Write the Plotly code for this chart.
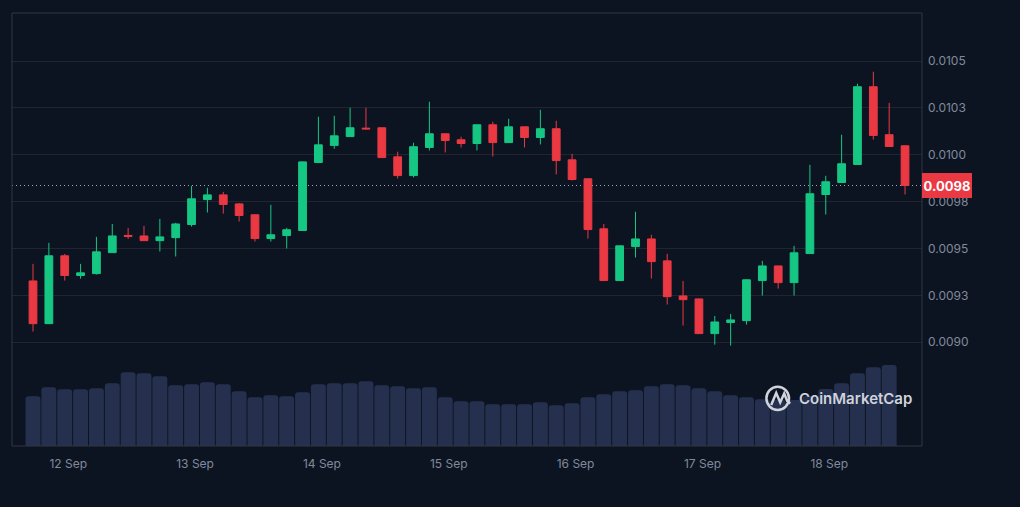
import plotly.graph_objects as go
import pandas as pd

# ---- data (3-hour candles) ----
start_time = "2024-09-11 17:20"
n_candles = 56
times = pd.date_range(start_time, periods=n_candles, freq="3h")

opens = [0.009327, 0.009099, 0.009461, 0.009356, 0.009366, 0.009478, 0.009570, 0.009567,
         0.009542, 0.009558, 0.009628, 0.009761, 0.009786, 0.009738, 0.009680, 0.009553,
         0.009569, 0.009596, 0.009959, 0.010050, 0.010097, 0.010142, 0.010144, 0.009989,
         0.009889, 0.010039, 0.010112, 0.010080, 0.010060, 0.010160, 0.010065, 0.010149,
         0.010092, 0.010139, 0.009973, 0.009872, 0.009605, 0.009329, 0.009510, 0.009551,
         0.009434, 0.009247, 0.009231, 0.009046, 0.009105, 0.009115, 0.009329, 0.009407,
         0.009318, 0.009473, 0.009788, 0.009852, 0.009948, 0.010363, 0.010107, 0.010048]
highs = [0.009418, 0.009530, 0.009471, 0.009418, 0.009562, 0.009631, 0.009610, 0.009621,
         0.009658, 0.009637, 0.009834, 0.009824, 0.009802, 0.009743, 0.009682, 0.009733,
         0.009610, 0.009965, 0.010203, 0.010208, 0.010251, 0.010251, 0.010146, 0.010016,
         0.010064, 0.010283, 0.010114, 0.010096, 0.010162, 0.010176, 0.010192, 0.010151,
         0.010240, 0.010181, 0.010005, 0.009875, 0.009631, 0.009516, 0.009696, 0.009573,
         0.009471, 0.009327, 0.009233, 0.009140, 0.009151, 0.009335, 0.009434, 0.009409,
         0.009514, 0.009946, 0.009888, 0.010107, 0.010379, 0.010443, 0.010277, 0.010050]
lows = [0.009057, 0.009097, 0.009329, 0.009339, 0.009361, 0.009476, 0.009551, 0.009540,
        0.009484, 0.009457, 0.009617, 0.009692, 0.009686, 0.009644, 0.009537, 0.009537,
        0.009500, 0.009594, 0.009955, 0.010032, 0.010095, 0.010135, 0.009983, 0.009873,
        0.009879, 0.010023, 0.010012, 0.010039, 0.010023, 0.009991, 0.010063, 0.010039,
        0.010055, 0.009895, 0.009863, 0.009553, 0.009327, 0.009327, 0.009452, 0.009340,
        0.009201, 0.009089, 0.009044, 0.008987, 0.008982, 0.009094, 0.009249, 0.009286,
        0.009249, 0.009471, 0.009681, 0.009850, 0.009946, 0.010081, 0.010042, 0.009788]
closes = [0.009099, 0.009461, 0.009356, 0.009370, 0.009482, 0.009567, 0.009564, 0.009542,
          0.009562, 0.009631, 0.009765, 0.009786, 0.009735, 0.009676, 0.009553, 0.009573,
          0.009600, 0.009962, 0.010053, 0.010101, 0.010144, 0.010138, 0.009985, 0.009889,
          0.010043, 0.010112, 0.010076, 0.010060, 0.010160, 0.010065, 0.010149, 0.010092,
          0.010139, 0.009969, 0.009868, 0.009601, 0.009329, 0.009514, 0.009551, 0.009430,
          0.009243, 0.009227, 0.009046, 0.009108, 0.009119, 0.009333, 0.009407, 0.009318,
          0.009477, 0.009792, 0.009856, 0.009952, 0.010363, 0.010103, 0.010044, 0.009836]
volumes = [497, 587, 567, 567, 577, 627, 737, 727, 697, 607, 617, 637, 617, 547, 487, 507,
           497, 537, 617, 627, 627, 647, 607, 597, 577, 587, 487, 447, 447, 417, 417, 417,
           437, 407, 427, 487, 517, 547, 557, 597, 617, 607, 577, 547, 507, 487, 467, 460,
           460, 500, 570, 627, 727, 787, 810, None]

price_ticks = [0.0090, 0.00925, 0.0095, 0.00975, 0.0100, 0.01025, 0.0105]
price_tick_labels = ["0.0090", "0.0093", "0.0095", "0.0098", "0.0100", "0.0103", "0.0105"]

# ---- styling ----
BG = "#0d1421"
GREEN = "#16c784"
RED = "#ea3943"
GRID = "#222531"
FRAME = "#323546"
TICK = "#808a9d"
FONT = "Inter"

fig = go.Figure()

fig.add_trace(go.Bar(
    x=times, y=volumes, yaxis="y2",
    marker=dict(color="#25304f", line=dict(width=0)),
    hoverinfo="skip", showlegend=False,
))

fig.add_trace(go.Candlestick(
    x=times, open=opens, high=highs, low=lows, close=closes,
    increasing=dict(line=dict(color=GREEN, width=1), fillcolor=GREEN),
    decreasing=dict(line=dict(color=RED, width=1), fillcolor=RED),
    whiskerwidth=0, showlegend=False,
))

t0 = times[0]
x_range = [t0 - pd.Timedelta(hours=3.975), t0 + pd.Timedelta(hours=168.21)]

last_close = closes[-1]

def px2paper(px, py):
    return (px - 12.3) / 910.0, (446.0 - py) / 432.7

# CoinMarketCap icon zigzag
pts = [(771.5, 405), (776.5, 393), (780.5, 402.5), (784.5, 393.5), (787.5, 401), (790.5, 403.5)]
path = ""
for k, (a, b) in enumerate(pts):
    u, v = px2paper(a, b)
    path += ("M" if k == 0 else "L") + f"{u:.5f},{v:.5f} "
cx0, cy0 = px2paper(766.7, 410)
cx1, cy1 = px2paper(789.3, 386.7)
tx, ty = px2paper(797.5, 398.5)

fig.update_layout(
    width=1020, height=507,
    margin=dict(l=12, r=98, t=13, b=61),
    paper_bgcolor=BG, plot_bgcolor=BG,
    font=dict(family=FONT, color=TICK, size=12),
    bargap=0.06,
    barcornerradius=3,
    hovermode=False,
    xaxis=dict(
        type="date", range=x_range, showgrid=False, zeroline=False,
        tickformat="%-d %b", dtick=86400000, tick0="2024-09-12",
        ticks="", ticklabelstandoff=9,
        tickfont=dict(size=12, color=TICK, family=FONT),
        rangeslider=dict(visible=False), showline=False, fixedrange=True,
    ),
    yaxis=dict(
        side="right", range=[0.0084464, 0.0107563],
        tickvals=price_ticks, ticktext=price_tick_labels,
        showgrid=True, gridcolor=GRID, gridwidth=1, zeroline=False,
        ticks="", ticklabelstandoff=5,
        tickfont=dict(size=12, color=TICK, family=FONT), showline=False,
    ),
    yaxis2=dict(overlaying="y", range=[0, 4327], visible=False),
    shapes=[
        dict(type="line", xref="paper", x0=0, x1=1, yref="y", y0=last_close, y1=last_close,
             line=dict(color="#a1a7bb", width=1, dash="1px,3px"), layer="between"),
        dict(type="rect", xref="paper", yref="paper", x0=0, x1=1, y0=0, y1=1,
             line=dict(color=FRAME, width=1), layer="above"),
        dict(type="circle", xref="paper", yref="paper", x0=cx0, x1=cx1, y0=cy0, y1=cy1,
             line=dict(color="#cfd3dc", width=2.5), layer="above"),
        dict(type="path", xref="paper", yref="paper", path=path.strip(),
             line=dict(color="#cfd3dc", width=2.5), layer="above"),
    ],
    annotations=[
        dict(xref="paper", x=1, xanchor="left", yref="y", y=last_close, yanchor="middle",
             text=f"<b>{last_close:.4f}</b>", showarrow=False,
             font=dict(color="white", size=13, family=FONT),
             bgcolor=RED, width=50, height=25, borderpad=0, borderwidth=0),
        dict(xref="paper", x=tx, xanchor="left", yref="paper", y=ty, yanchor="middle",
             text="CoinMarketCap", showarrow=False,
             font=dict(color="#cfd3dc", size=15, family=FONT, weight=600)),
    ],
)

fig.write_html(
    "out.html",
    config={"displayModeBar": False, "staticPlot": True},
    post_script="document.body.style.margin='0';document.body.style.background='#0d1421';",
)
